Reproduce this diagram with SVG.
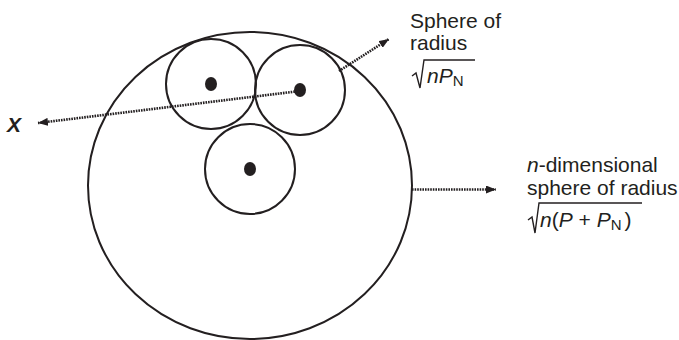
<svg xmlns="http://www.w3.org/2000/svg" width="679" height="340" viewBox="0 0 679 340">
<style>
.o{fill:none;stroke:#231f20;stroke-width:2}
.dot{fill:#231f20}
.c{fill:none;stroke:#231f20;stroke-width:2.6;stroke-dasharray:1.6 1}
.t{font-family:"Liberation Sans",Arial,sans-serif;font-size:21px;fill:#231f20}
.i{font-style:italic}
.rad{fill:none;stroke:#231f20;stroke-width:1.4;stroke-linejoin:miter}
</style>
<defs>
<marker id="ah" viewBox="0 0 10 8" refX="10" refY="4" markerWidth="10" markerHeight="8" markerUnits="userSpaceOnUse" orient="auto">
<path d="M0,0 L10,4 L0,8 Z" fill="#231f20"/>
</marker>
</defs>
<g id="big-sphere">
<ellipse class="o" cx="250" cy="185.5" rx="162" ry="153.5"/>
</g>
<g id="sphere1">
<circle class="o" cx="211" cy="84" r="45"/>
<ellipse class="dot" cx="211" cy="84" rx="6" ry="7"/>
</g>
<g id="sphere2">
<circle class="o" cx="300" cy="90" r="45"/>
<ellipse class="dot" cx="300" cy="90" rx="6" ry="7"/>
</g>
<g id="sphere3">
<circle class="o" cx="250" cy="169" r="45"/>
<ellipse class="dot" cx="250" cy="169" rx="6" ry="7"/>
</g>
<g id="connectors">
<line class="c" x1="300" y1="91" x2="38" y2="123" marker-end="url(#ah)"/>
<line class="c" x1="339" y1="71" x2="389" y2="39" marker-end="url(#ah)"/>
<line class="c" x1="412" y1="189.5" x2="496" y2="189.5" marker-end="url(#ah)"/>
</g>
<g id="label-x">
<text class="t" x="7" y="132" font-weight="bold" font-style="italic">X</text>
</g>
<g id="label-small">
<text class="t" x="410" y="28">Sphere of</text>
<text class="t" x="410" y="50">radius</text>
<path class="rad" d="M412,76 L416,73 L420,88 L424,60 L475,60"/>
<text class="t" x="427" y="83"><tspan class="i">nP</tspan><tspan font-size="15" dy="3">N</tspan></text>
</g>
<g id="label-big">
<text class="t" x="527" y="172"><tspan class="i">n</tspan>-dimensional</text>
<text class="t" x="527" y="195">sphere of radius</text>
<path class="rad" d="M528,220 L532,217 L535,233 L539,203 L642,203"/>
<text class="t" x="540" y="227"><tspan class="i">n</tspan>(<tspan class="i">P</tspan> + <tspan class="i">P</tspan><tspan font-size="15" dy="3">N</tspan><tspan dy="-3" dx="3">)</tspan></text>
</g>
</svg>
